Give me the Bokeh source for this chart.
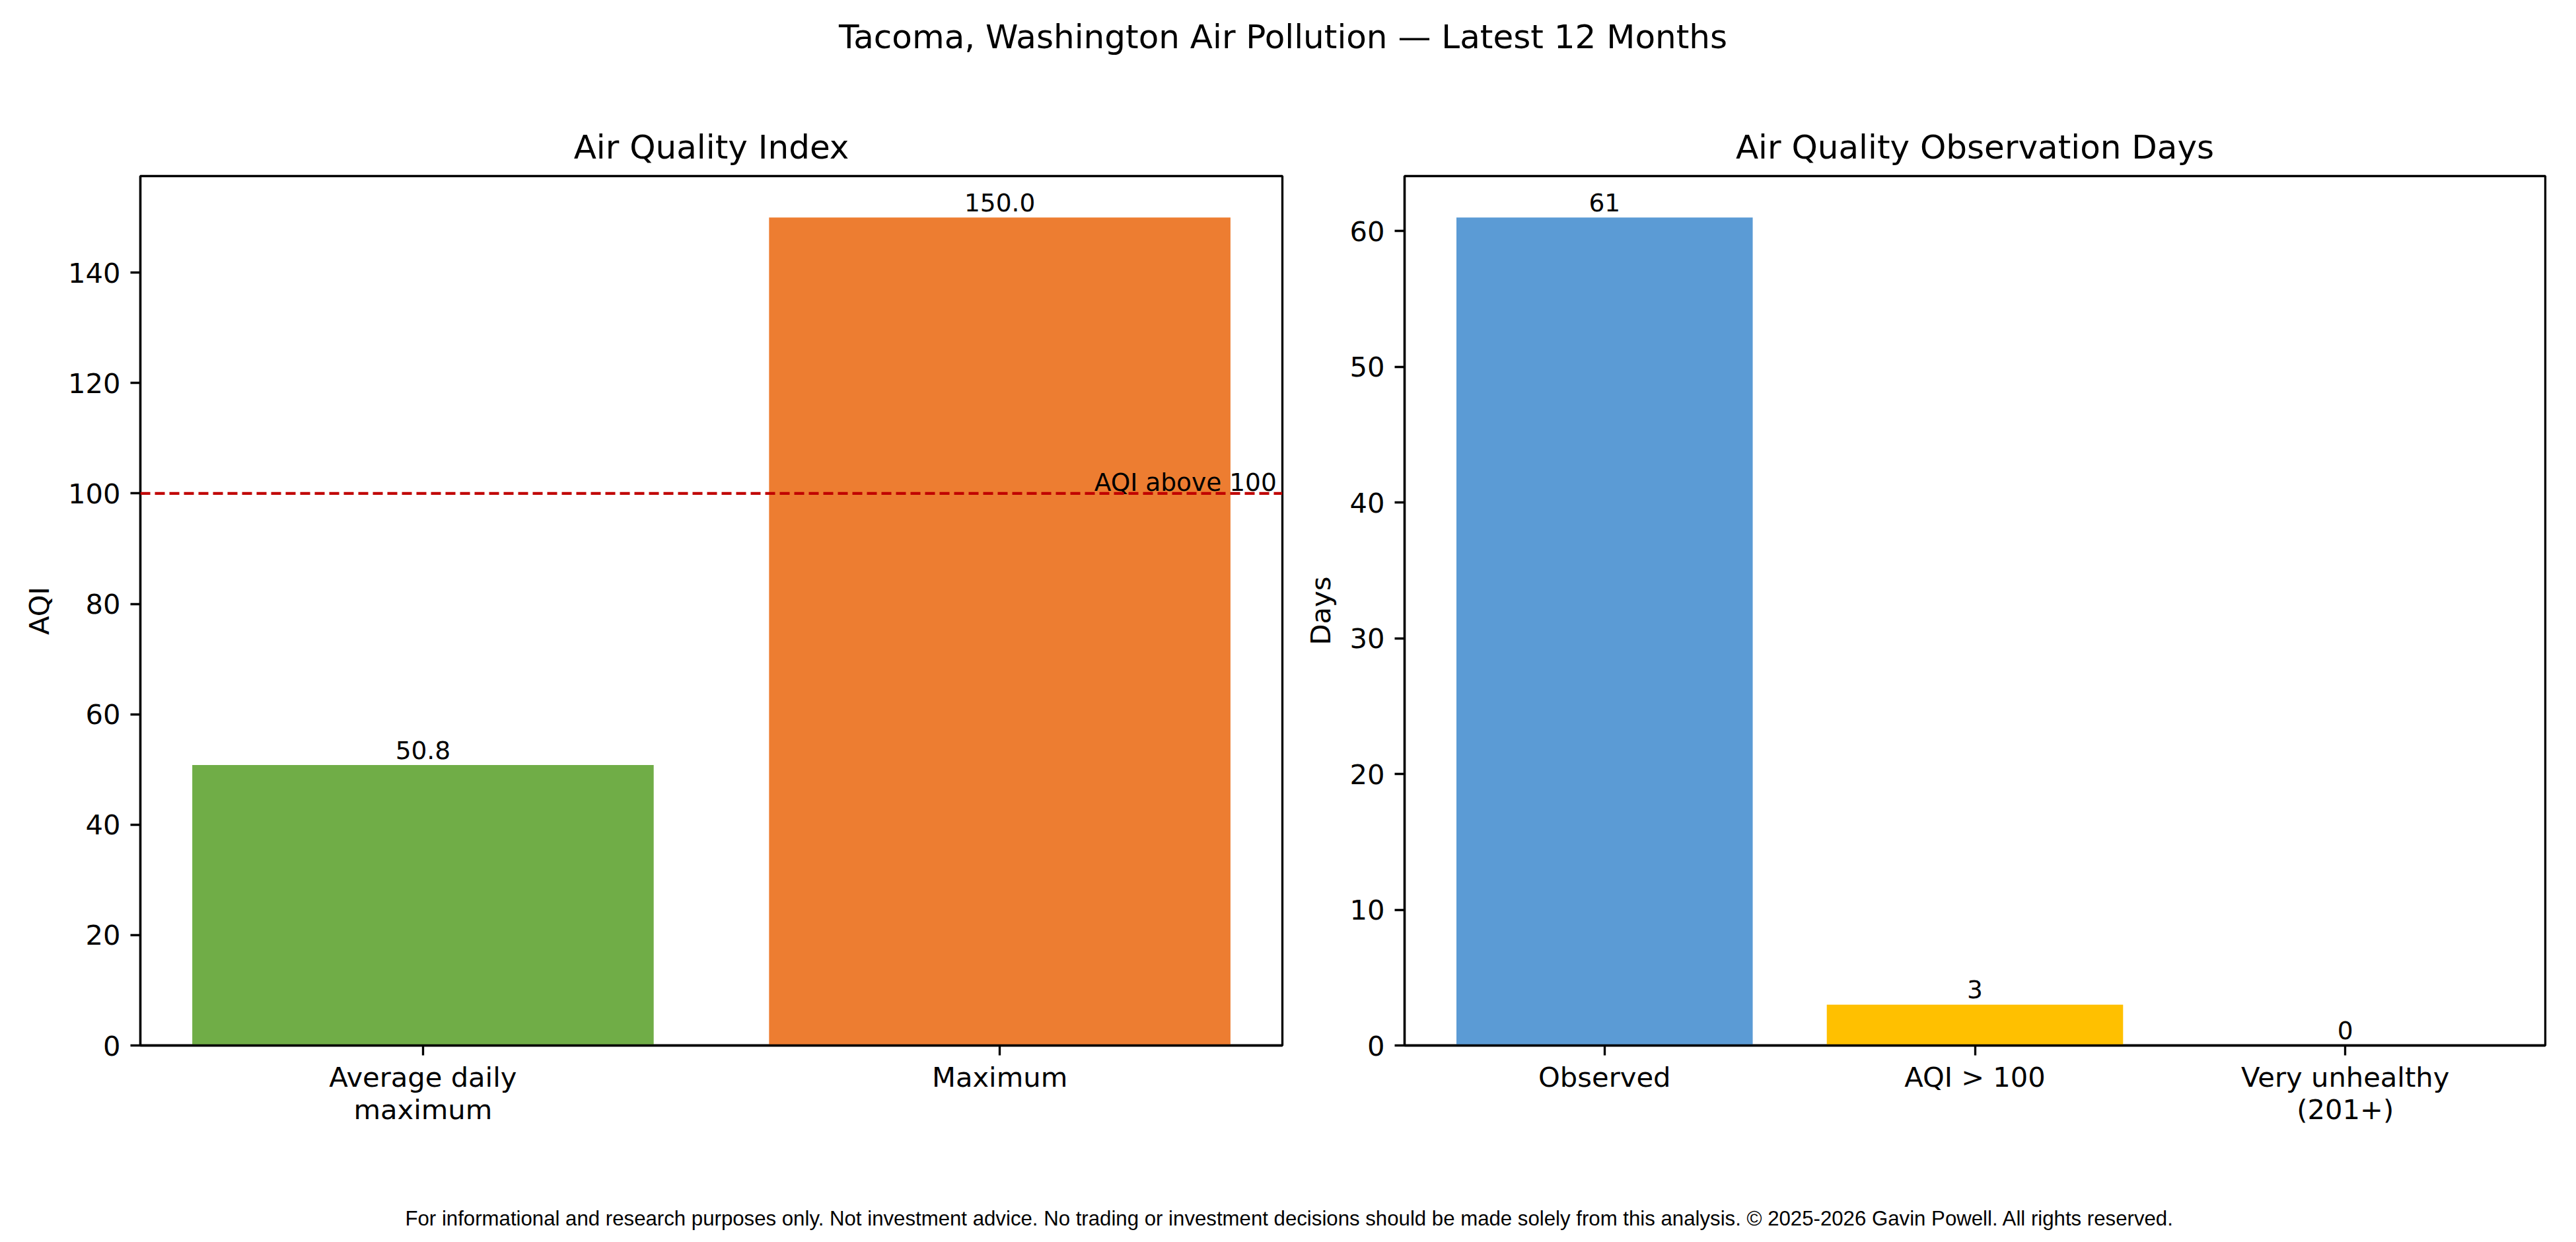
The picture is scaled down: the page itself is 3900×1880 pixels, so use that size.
from bokeh.plotting import figure
from bokeh.models import Range1d, FactorRange, SingleIntervalTicker, Span, ColumnDataSource
from bokeh.layouts import column, row
from bokeh.core.properties import value
from bokeh.embed import file_html
from bokeh.resources import INLINE

# ---------------- data ----------------
SUPTITLE = "Tacoma, Washington Air Pollution \u2014 Latest 12 Months"
FOOTER = ("For informational and research purposes only. Not investment advice. "
          "No trading or investment decisions should be made solely from this analysis. "
          "\u00a9 2025-2026 Gavin Powell. All rights reserved.")

aqi_title = "Air Quality Index"
aqi_ylabel = "AQI"
aqi_categories = ["Average daily\nmaximum", "Maximum"]
aqi_values = [50.8, 150.0]
aqi_colors = ["#70AD47", "#ED7D31"]
aqi_tick_step = 20
AQI_THRESHOLD = 100
AQI_THRESHOLD_LABEL = "AQI above 100"

days_title = "Air Quality Observation Days"
days_ylabel = "Days"
days_categories = ["Observed", "AQI > 100", "Very unhealthy\n(201+)"]
days_values = [61, 3, 0]
days_colors = ["#5B9BD5", "#FFC000", "#C00000"]
days_tick_step = 10

# ---------------- styling ----------------
PT = 300 / 72.0
FS_TICK = f"{10 * PT:.2f}px"
FS_TITLE = f"{12 * PT:.2f}px"
FS_BAR = f"{9 * PT:.2f}px"
FS_FOOT = "31.2px"
FONT = "DejaVu Sans"
LW = 0.8 * PT
TICK = int(round(3.5 * PT))

TOTAL_W = 3884
H_HEAD = 151
ROW_TOP = 115
FRAME_H = 1316
ROW_BOTTOM = 199
ROW_H = ROW_TOP + FRAME_H + ROW_BOTTOM
H_FOOT = 83


def bar_panel(title, ylabel, cats, vals, colors, labels, tick_step, width, b_left, b_right):
    n = len(cats)
    m = 0.05 * (n - 1 + 0.8)
    pad = m - 0.1
    xr = FactorRange(factors=cats, range_padding=pad, range_padding_units="absolute")
    yr = Range1d(0, max(vals) * 1.05)
    p = figure(width=width, height=ROW_H, x_range=xr, y_range=yr,
               output_backend="svg", toolbar_location=None,
               min_border_left=b_left, min_border_right=b_right,
               min_border_top=ROW_TOP, min_border_bottom=ROW_BOTTOM)
    src = ColumnDataSource(dict(cat=cats, val=vals, color=colors, label=labels))
    p.vbar(x="cat", top="val", width=0.8, fill_color="color", line_color=None, source=src)
    p.text(x="cat", y="val", text="label", source=src, text_align="center",
           text_baseline="alphabetic", y_offset=-23, text_font=value(FONT),
           text_font_size=FS_BAR, text_color="black")
    p.title.text = title
    p.title.align = "center"
    p.title.text_font = FONT
    p.title.text_font_size = FS_TITLE
    p.title.text_font_style = "normal"
    p.title.text_color = "black"
    p.title.standoff = 30
    p.grid.visible = False
    p.outline_line_color = "black"
    p.outline_line_width = LW
    p.background_fill_color = "white"
    p.border_fill_color = "white"
    p.yaxis.ticker = SingleIntervalTicker(interval=tick_step)
    p.yaxis.axis_label = ylabel
    for ax in (p.xaxis, p.yaxis):
        ax.axis_line_width = LW
        ax.axis_line_color = "black"
        ax.major_tick_line_width = LW
        ax.major_tick_line_color = "black"
        ax.major_tick_in = 0
        ax.major_tick_out = TICK
        ax.minor_tick_line_color = None
        ax.major_label_standoff = TICK
        ax.major_label_text_font = FONT
        ax.major_label_text_font_size = FS_TICK
        ax.major_label_text_color = "black"
        ax.axis_label_text_font = FONT
        ax.axis_label_text_font_size = FS_TICK
        ax.axis_label_text_font_style = "normal"
        ax.axis_label_text_color = "black"
        ax.axis_label_standoff = 16
    p.xaxis.major_label_standoff = 8
    p.xaxis.major_label_text_line_height = 1.0
    return p


left = bar_panel(aqi_title, aqi_ylabel, aqi_categories, aqi_values, aqi_colors,
                 [f"{v:.1f}" for v in aqi_values], aqi_tick_step, 1961, 212, 20)
left.add_layout(Span(location=AQI_THRESHOLD, dimension="width", line_color="#C00000",
                     line_width=1.0 * PT, line_dash="15 7"))
left.text(x=[len(aqi_categories) - 0.02], y=[AQI_THRESHOLD], text=[AQI_THRESHOLD_LABEL],
          text_align="right", text_baseline="alphabetic", y_offset=-17,
          text_font=value(FONT), text_font_size=FS_BAR, text_color="black")

right = bar_panel(days_title, days_ylabel, days_categories, days_values, days_colors,
                  [f"{v:d}" for v in days_values], days_tick_step, 1923, 165, 31)


def text_strip(height, txt, font, size, x, y, baseline):
    f = figure(width=TOTAL_W, height=height, x_range=Range1d(0, TOTAL_W), y_range=Range1d(0, height),
               output_backend="svg", toolbar_location=None, min_border=0)
    f.axis.visible = False
    f.grid.visible = False
    f.outline_line_color = None
    f.background_fill_color = "white"
    f.border_fill_color = "white"
    f.text(x=[x], y=[y], text=[txt], text_align="center", text_baseline=baseline,
           text_font=value(font), text_font_size=size, text_color="black")
    return f


header = text_strip(H_HEAD, SUPTITLE, FONT, FS_TITLE, 1942, H_HEAD - 55, "alphabetic")
footer = text_strip(H_FOOT, FOOTER, "Liberation Sans", FS_FOOT, 1952, H_FOOT - 63, "middle")

layout = column(header, row(left, right), footer)
open("out.html", "w").write(file_html(layout, INLINE))
